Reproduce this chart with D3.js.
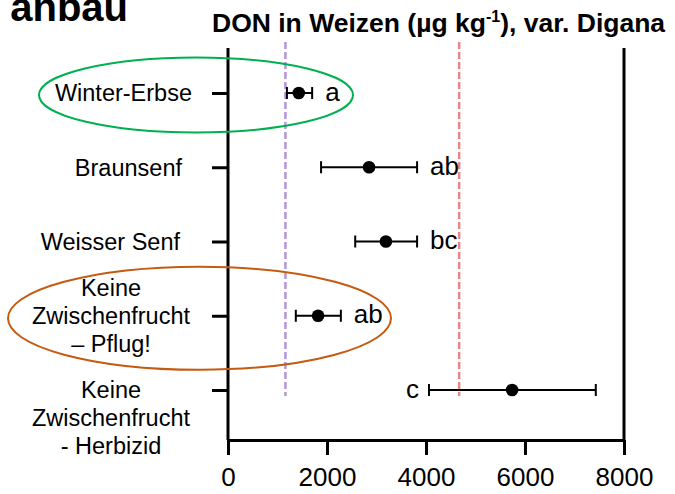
<!DOCTYPE html>
<html>
<head>
<meta charset="utf-8">
<script src="https://cdn.jsdelivr.net/npm/d3@7"></script>
<style>
  html, body { margin: 0; padding: 0; background: #fff; }
  svg { display: block; }
  text { font-family: "Liberation Sans", Arial, sans-serif; fill: #000; }
</style>
</head>
<body>
<script>
// ---- data ----
const categories = ["Winter-Erbse", "Braunsenf", "Weisser Senf", "Keine Zwischenfrucht – Pflug!", "Keine Zwischenfrucht - Herbizid"];
const labelLines = [["Winter-Erbse"], ["Braunsenf"], ["Weisser Senf"], ["Keine", "Zwischenfrucht", "– Pflug!"], ["Keine", "Zwischenfrucht", "- Herbizid"]];
const means = [1430, 2850, 3190, 1820, 5740];
const lower = [1190, 1880, 2570, 1370, 4060];
const upper = [1700, 3820, 3820, 2280, 7430];
const letters = ["a", "ab", "bc", "ab", "c"];
const refValues = [1160, 4670];
const xTicks = [0, 2000, 4000, 6000, 8000];

// ---- layout ----
const W = 675, H = 494;
const plotTop = 48, plotBottom = 440;
const letterSide = ["right", "right", "right", "right", "left"];
const labelAnchor = ["end", "end", "end", "middle", "middle"];
const labelOffset = [36, 46, 48, 117, 117];
const labelAlignLine = [0, 0, 0, 1, 0]; // which line of the label sits level with the tick
const refColors = ["#b496dc", "#e78787"];

const svg = d3.select("body").append("svg").attr("width", W).attr("height", H);

const x = d3.scaleLinear().domain([0, 8000]).range([228, 624]);
const y = d3.scalePoint().domain(categories).range([93, 390]);

// title fragment
svg.append("text").attr("x", 128).attr("y", 21).attr("text-anchor", "end")
  .style("font-size", "40px").style("font-weight", "bold").text("anbau");

// chart title
const t = svg.append("text").attr("x", 212).attr("y", 32)
  .style("font-size", "26.5px").style("font-weight", "bold");
t.append("tspan").text("DON in Weizen (µg kg");
t.append("tspan").attr("dy", -10).style("font-size", "16px").text("-1");
t.append("tspan").attr("dy", 10).text("), var. Digana");

// reference dashed lines
svg.selectAll("line.ref").data(refValues).join("line").attr("class", "ref")
  .attr("x1", d => x(d)).attr("x2", d => x(d))
  .attr("y1", 42).attr("y2", 396)
  .attr("stroke", (d, i) => refColors[i]).attr("stroke-width", 2.5)
  .attr("stroke-dasharray", "7,3");

// bottom axis
const xAxis = svg.append("g").attr("transform", `translate(0,${plotBottom})`)
  .call(d3.axisBottom(x).tickValues(xTicks).tickFormat(d3.format("d")).tickSize(15).tickSizeOuter(0).tickPadding(13));
xAxis.select(".domain").attr("stroke", "#000").attr("stroke-width", 3);
xAxis.selectAll(".tick line").attr("stroke", "#000").attr("stroke-width", 3);
xAxis.selectAll(".tick text").style("font-size", "26px").style("font-family", "'Liberation Sans', Arial, sans-serif").attr("fill", "#000");

// left axis ticks
const yAxis = svg.append("g").attr("transform", `translate(${x(0)},0)`)
  .call(d3.axisLeft(y).tickSize(16).tickSizeOuter(0).tickFormat(""));
yAxis.select(".domain").remove();
yAxis.selectAll(".tick line").attr("stroke", "#000").attr("stroke-width", 3);

// frame verticals (left and right axis lines)
svg.selectAll("line.frame").data([0, 8000]).join("line").attr("class", "frame")
  .attr("x1", d => x(d)).attr("x2", d => x(d))
  .attr("y1", plotTop).attr("y2", plotBottom)
  .attr("stroke", "#000").attr("stroke-width", 3);

// category labels
categories.forEach((c, i) => {
  const lines = labelLines[i];
  const txt = svg.append("text")
    .attr("text-anchor", labelAnchor[i])
    .style("font-size", "23.5px");
  lines.forEach((ln, j) => {
    txt.append("tspan")
      .attr("x", x(0) - labelOffset[i])
      .attr("y", y(c) + 8.4 + (j - labelAlignLine[i]) * 28)
      .text(ln);
  });
});

// error bars
const g = svg.append("g");
categories.forEach((c, i) => {
  const cy = y(c);
  g.append("line").attr("x1", x(lower[i])).attr("x2", x(upper[i])).attr("y1", cy).attr("y2", cy)
    .attr("stroke", "#000").attr("stroke-width", 2);
  [lower[i], upper[i]].forEach(v => {
    g.append("line").attr("x1", x(v)).attr("x2", x(v)).attr("y1", cy - 6).attr("y2", cy + 6)
      .attr("stroke", "#000").attr("stroke-width", 2);
  });
  g.append("circle").attr("cx", x(means[i])).attr("cy", cy).attr("r", 6.3).attr("fill", "#000");
  const right = letterSide[i] === "right";
  g.append("text")
    .attr("x", right ? x(upper[i]) + 13 : x(lower[i]) - 10)
    .attr("y", cy + 7.5)
    .attr("text-anchor", right ? "start" : "end")
    .style("font-size", "26px")
    .text(letters[i]);
});

// annotation ellipses
svg.append("ellipse").attr("cx", 196).attr("cy", y(categories[0]) + 2).attr("rx", 157).attr("ry", 37.5)
  .attr("fill", "none").attr("stroke", "#00b050").attr("stroke-width", 2);
svg.append("ellipse").attr("cx", 199.5).attr("cy", y(categories[3]) + 2.5).attr("rx", 191.5).attr("ry", 51.5)
  .attr("fill", "none").attr("stroke", "#c55a11").attr("stroke-width", 2);
</script>
</body>
</html>
